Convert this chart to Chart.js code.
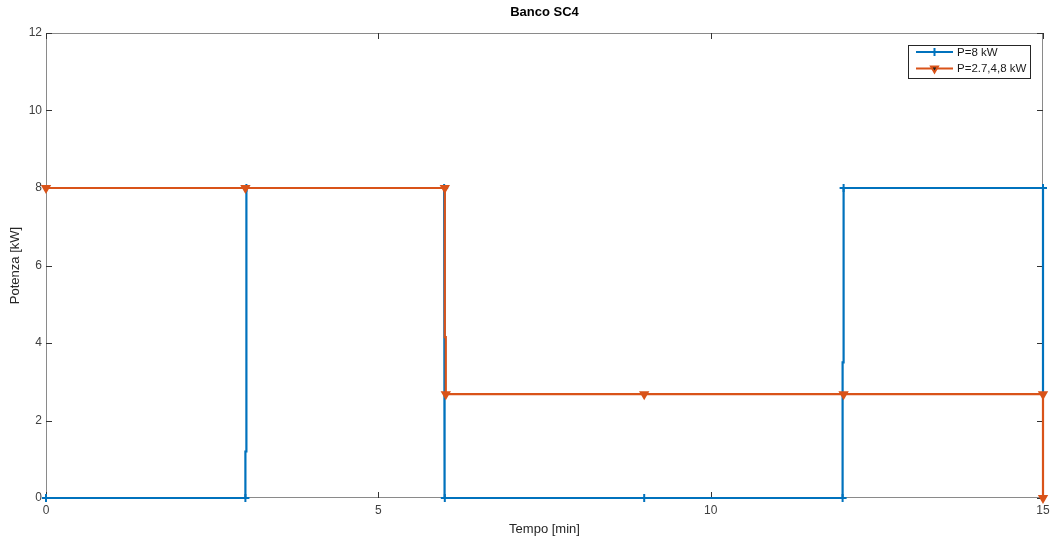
<!DOCTYPE html>
<html>
<head>
<meta charset="utf-8">
<script src="https://cdn.jsdelivr.net/npm/chart.js@4"></script>
<style>
  html, body { margin: 0; padding: 0; background: #fff; }
  #chart { display: block; }
</style>
</head>
<body>
<canvas id="chart" width="1051" height="537"></canvas>
<script>
// series data (time in min, power in kW)
const timeBlue  = [0, 3, 3,   3.015, 3.015, 5.99, 5.99, 6.0,  6.0, 9, 11.985, 11.985, 12.0, 12, 15, 15];
const powerBlue = [0, 0, 1.2, 1.2,   8,     8,    2.25, 2.25, 0,   0, 0,      3.5,    3.5,  8,  8,  2.68];
const markBlue  = [1, 1, 0,   0,     1,     1,    0,    0,    1,   1, 1,      0,      0,    1,  1,  0];

const timeOrange  = [0, 3, 6, 6,    6.015, 6.015, 9,    12,   15,   15];
const powerOrange = [8, 8, 8, 4.15, 4.15,  2.68,  2.68, 2.68, 2.68, 0];
const markOrange  = [1, 1, 1, 0,    0,     1,     1,    1,    1,    1];

const seriesNames = ['P=8 kW', 'P=2.7,4,8 kW'];
const xTicks = [0, 5, 10, 15];
const yTicks = [0, 2, 4, 6, 8, 10, 12];

const blue = '#0072BD';
const orange = '#D95319';
const font = "'Liberation Sans', Arial, Helvetica, sans-serif";

function pts(xs, ys) {
  return xs.map((x, i) => ({ x: x, y: ys[i] }));
}

// center the title over the plot area, like matlab does
const titleOverAxes = {
  id: 'titleOverAxes',
  afterLayout(chart) {
    const t = chart.titleBlock;
    if (!t) return;
    t.left = chart.chartArea.left;
    t.right = chart.chartArea.right;
    t.width = t.right - t.left;
  }
};

// box around axes + inward ticks, matlab style (under the lines)
const frameTicks = {
  id: 'frameTicks',
  beforeDatasetsDraw(chart) {
    const ctx = chart.ctx;
    const a = chart.chartArea;
    const xs = chart.scales.x, ys = chart.scales.y;
    ctx.save();
    ctx.strokeStyle = '#8a8a8a';
    ctx.lineWidth = 1;
    ctx.strokeRect(Math.round(a.left) + 0.5, Math.round(a.top) + 0.5,
      Math.round(a.right - a.left) - 1, Math.round(a.bottom - a.top) - 1);
    ctx.strokeStyle = '#333';
    ctx.beginPath();
    yTicks.forEach(v => {
      const py = Math.round(ys.getPixelForValue(v)) + 0.5;
      ctx.moveTo(a.left, py); ctx.lineTo(a.left + 6, py);
      ctx.moveTo(a.right, py); ctx.lineTo(a.right - 6, py);
    });
    xTicks.forEach(v => {
      const px = Math.round(xs.getPixelForValue(v)) + 0.5;
      ctx.moveTo(px, a.bottom); ctx.lineTo(px, a.bottom - 6);
      ctx.moveTo(px, a.top); ctx.lineTo(px, a.top + 6);
    });
    ctx.stroke();
    ctx.restore();
  }
};

// legend box drawn like matlab's: line with marker and label
const boxLegend = {
  id: 'boxLegend',
  afterDraw(chart) {
    const ctx = chart.ctx;
    const a = chart.chartArea;
    const bx = a.right - 135, by = a.top + 12, bw = 122, bh = 33;
    ctx.save();
    ctx.fillStyle = '#fff';
    ctx.fillRect(bx, by, bw, bh);
    ctx.strokeStyle = '#262626';
    ctx.lineWidth = 1;
    ctx.strokeRect(bx + 0.5, by + 0.5, bw, bh);
    chart.data.datasets.forEach((ds, i) => {
      const ly = by + 7 + i * 16.5;
      ctx.strokeStyle = ds.borderColor;
      ctx.lineWidth = 2;
      ctx.beginPath();
      ctx.moveTo(bx + 8, ly); ctx.lineTo(bx + 45, ly);
      ctx.stroke();
      Chart.helpers.drawPoint(ctx, {
        pointStyle: ds.pointStyle, radius: ds.legendRadius, rotation: ds.rotation || 0,
        borderWidth: ds.pointBorderWidth
      }, bx + 26.5, ly);
      ctx.fillStyle = '#1a1a1a';
      ctx.font = '11.5px ' + font;
      ctx.textBaseline = 'middle';
      ctx.fillText(ds.label, bx + 49, ly + 0.5);
    });
    ctx.restore();
  }
};

const blueSet = {
  label: seriesNames[0],
  data: pts(timeBlue, powerBlue),
  borderColor: blue,
  backgroundColor: blue,
  borderWidth: 2.2,
  pointStyle: 'cross',
  pointBorderWidth: 2,
  pointRadius: markBlue.map(m => m ? 4 : 0),
  legendRadius: 4,
  clip: false,
  order: 2
};
const orangeSet = {
  label: seriesNames[1],
  data: pts(timeOrange, powerOrange),
  borderColor: orange,
  backgroundColor: orange,
  borderWidth: 2.2,
  pointStyle: 'triangle',
  rotation: 180,
  pointBorderWidth: 2,
  pointRadius: markOrange.map(m => m ? 4 : 0),
  legendRadius: 4,
  clip: false,
  order: 1
};

new Chart(document.getElementById('chart'), {
  type: 'line',
  data: { datasets: [blueSet, orangeSet] },
  options: {
    responsive: false,
    animation: false,
    devicePixelRatio: 1,
    layout: { padding: { left: 0, right: 8, top: 0, bottom: 0 } },
    elements: { line: { tension: 0 }, point: { hoverRadius: 0 } },
    plugins: {
      legend: { display: false },
      tooltip: { enabled: false },
      title: {
        display: true,
        text: 'Banco SC4',
        color: '#000',
        font: { family: font, size: 13, weight: 'bold' },
        padding: { top: 5, bottom: 12.4 }
      }
    },
    scales: {
      x: {
        type: 'linear',
        min: 0, max: 15,
        afterBuildTicks: s => { s.ticks = xTicks.map(v => ({ value: v })); },
        afterFit: s => { s.height = 39; s.paddingRight = 0; s.paddingLeft = 0; },
        grid: { display: false, drawTicks: false },
        border: { display: false },
        ticks: { color: '#404040', font: { family: font, size: 12 }, padding: 5, maxRotation: 0 },
        title: { display: true, text: 'Tempo [min]', color: '#262626', font: { family: font, size: 13 }, padding: { top: 3, bottom: 0 } }
      },
      y: {
        min: 0, max: 12,
        afterBuildTicks: s => { s.ticks = yTicks.map(v => ({ value: v })); },
        afterFit: s => { s.width = 46; s.paddingTop = 0; s.paddingBottom = 0; },
        grid: { display: false, drawTicks: false },
        border: { display: false },
        ticks: { color: '#404040', font: { family: font, size: 12 }, padding: 4 },
        title: { display: true, text: 'Potenza [kW]', color: '#262626', font: { family: font, size: 13 }, padding: { top: 8, bottom: 0 } }
      }
    }
  },
  plugins: [titleOverAxes, frameTicks, boxLegend]
});
</script>
</body>
</html>
